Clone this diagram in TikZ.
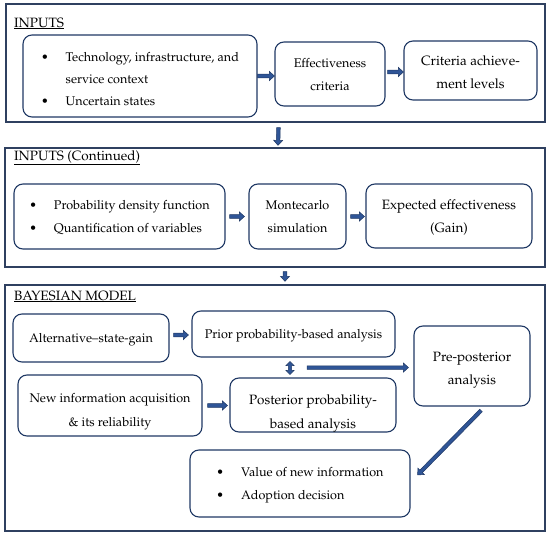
\documentclass[tikz,border=0pt]{standalone}
\usepackage[T1]{fontenc}
\renewcommand{\rmdefault}{ppl}
\usetikzlibrary{calc}
\definecolor{navy}{RGB}{31,56,100}
\definecolor{arrowblue}{RGB}{47,85,151}
\definecolor{framecol}{RGB}{47,64,96}
\newcommand{\lowerby}[2]{\raisebox{-#1}[\height][\depth]{#2}}
\newcommand{\ctab}[1]{\begin{tabular}{@{}c@{}}#1\end{tabular}}
\newcommand{\btab}[1]{\begin{tabular}{@{}l@{\hspace{17pt}}l@{}}#1\end{tabular}}
\tikzset{
  outerbox/.style={draw=framecol, line width=1.3pt, rectangle, inner sep=0pt},
  box/.style={draw=navy, line width=1.1pt, rounded corners=9pt, align=center, inner sep=0pt,
    font=\fontsize{12.6}{23}\selectfont},
  bigtext/.style={font=\fontsize{13.5}{23}\selectfont},
  title/.style={font=\fontsize{13.5}{16}\selectfont, anchor=base west, inner sep=0pt},
  blockarrow/.style={draw=navy, fill=arrowblue, line width=0.5pt,
    to path={let \p1=(\tikztostart), \p2=(\tikztotarget),
      \n1={atan2(\y2-\y1,\x2-\x1)}, \n2={veclen(\x2-\x1,\y2-\y1)} in
      [shift={(\p1)}, rotate=\n1]
      (0pt,-1.8pt) -- ({\n2-5pt},-1.8pt) -- ({\n2-5pt},-4.5pt) -- (\n2,0pt)
      -- ({\n2-5pt},4.5pt) -- ({\n2-5pt},1.8pt) -- (0pt,1.8pt) -- cycle}},
  dblarrow/.style={draw=navy, fill=arrowblue, line width=0.5pt,
    to path={let \p1=(\tikztostart), \p2=(\tikztotarget),
      \n1={atan2(\y2-\y1,\x2-\x1)}, \n2={veclen(\x2-\x1,\y2-\y1)} in
      [shift={(\p1)}, rotate=\n1]
      (0pt,0pt) -- (4pt,4pt) -- (4pt,1.6pt) -- ({\n2-4pt},1.6pt) -- ({\n2-4pt},4pt)
      -- (\n2,0pt) -- ({\n2-4pt},-4pt) -- ({\n2-4pt},-1.6pt) -- (4pt,-1.6pt)
      -- (4pt,-4pt) -- cycle}},
}
\begin{document}
\begin{tikzpicture}[x=1pt,y=-1pt]
\useasboundingbox (0,0) rectangle (550,536);
% outer frames
\node[outerbox, minimum width=539pt, minimum height=118pt] (o1) at (275.5,63) {};
\node[outerbox, minimum width=540pt, minimum height=119pt] (o2) at (275,207.5) {};
\node[outerbox, minimum width=540pt, minimum height=246pt] (o3) at (275,408) {};
\node[title] (t1) at (14,27) {\underline{INPUTS}};
\node[title] (t2) at (14,160) {\underline{INPUTS (Continued)}};
\node[title] (t3) at (14,300) {\underline{BAYESIAN MODEL}};
% section 1
\node[box, minimum width=234pt, minimum height=82pt, font=\fontsize{12.6}{22}\selectfont] (A) at (140,76)
  {\lowerby{3pt}{\btab{\textbullet & Technology, infrastructure, and\\ & service context\\ \textbullet & Uncertain states}}};
\node[box, minimum width=110pt, minimum height=64pt] (B) at (330,74) {\ctab{Effectiveness\\criteria}};
\node[box, bigtext, minimum width=133pt, minimum height=59pt] (C) at (470.5,70.5) {\lowerby{2pt}{\ctab{Criteria achieve-\\ment levels}}};
% section 2
\node[box, minimum width=211pt, minimum height=65pt] (D) at (119.5,216.5)
  {\btab{\textbullet & Probability density function\\ \textbullet & Quantification of variables}};
\node[box, minimum width=97pt, minimum height=65pt] (E) at (297.5,216.5) {Montecarlo\\simulation};
\node[box, bigtext, minimum width=166pt, minimum height=64pt] (F) at (449,216) {\ctab{Expected effectiveness\\(Gain)}};
% section 3
\node[box, minimum width=156pt, minimum height=48pt] (G) at (91,338) {\lowerby{2pt}{Alternative--state-gain}};
\node[box, minimum width=203pt, minimum height=46pt] (H) at (293.5,334) {\lowerby{2pt}{Prior probability-based analysis}};
\node[box, bigtext, minimum width=116pt, minimum height=80pt] (I) at (472,366) {\lowerby{2pt}{\ctab{Pre-posterior\\analysis}}};
\node[box, minimum width=184pt, minimum height=61pt, font=\fontsize{12.6}{24}\selectfont] (J) at (110,405.5) {\lowerby{4pt}{\ctab{New information acquisition\\\&~its reliability}}};
\node[box, bigtext, minimum width=166pt, minimum height=54pt, font=\fontsize{13.5}{24}\selectfont] (K) at (313,405) {\lowerby{7pt}{\ctab{Posterior probability-\\based analysis}}};
\node[box, minimum width=220pt, minimum height=67pt] (L) at (300,483.5)
  {\btab{\textbullet & Value of new information\\ \textbullet & Adoption decision}};
% arrows
\draw[blockarrow] (A.east) to (A.east -| B.west);
\draw[blockarrow] ($(B.east)+(2,-2)$) to ($(B.east -| C.west)+(0,-2)$);
\draw[blockarrow] ($(o1.south)+(3,5)$) to ($(o2.north)+(3,-2)$);
\draw[blockarrow] ($(D.east)+(4,0)$) to ($(D.east -| E.west)+(-4,0)$);
\draw[blockarrow] ($(E.east)+(4,0)$) to ($(E.east -| F.west)+(-1,0)$);
\draw[blockarrow] ($(o2.south)+(10,4)$) to ($(o3.north)+(10,-3)$);
\draw[blockarrow] ($(G.east)+(4,-3)$) to ($(G.east -| H.west)+(-3,-3)$);
\draw[dblarrow] ($(H.south)+(-3.5,4)$) to ($(K.north)+(-23,-3)$);
\draw[blockarrow] ($(H.south)+(13.5,10)$) to ($(H.south -| I.west)+(-5,10)$);
\draw[blockarrow] ($(J.east)+(5,0)$) to ($(J.east -| K.west)+(-2,0)$);
\draw[blockarrow] ($(I.south)+(9,4)$) to ($(L.east)+(7,-8.5)$);
\end{tikzpicture}
\end{document}
